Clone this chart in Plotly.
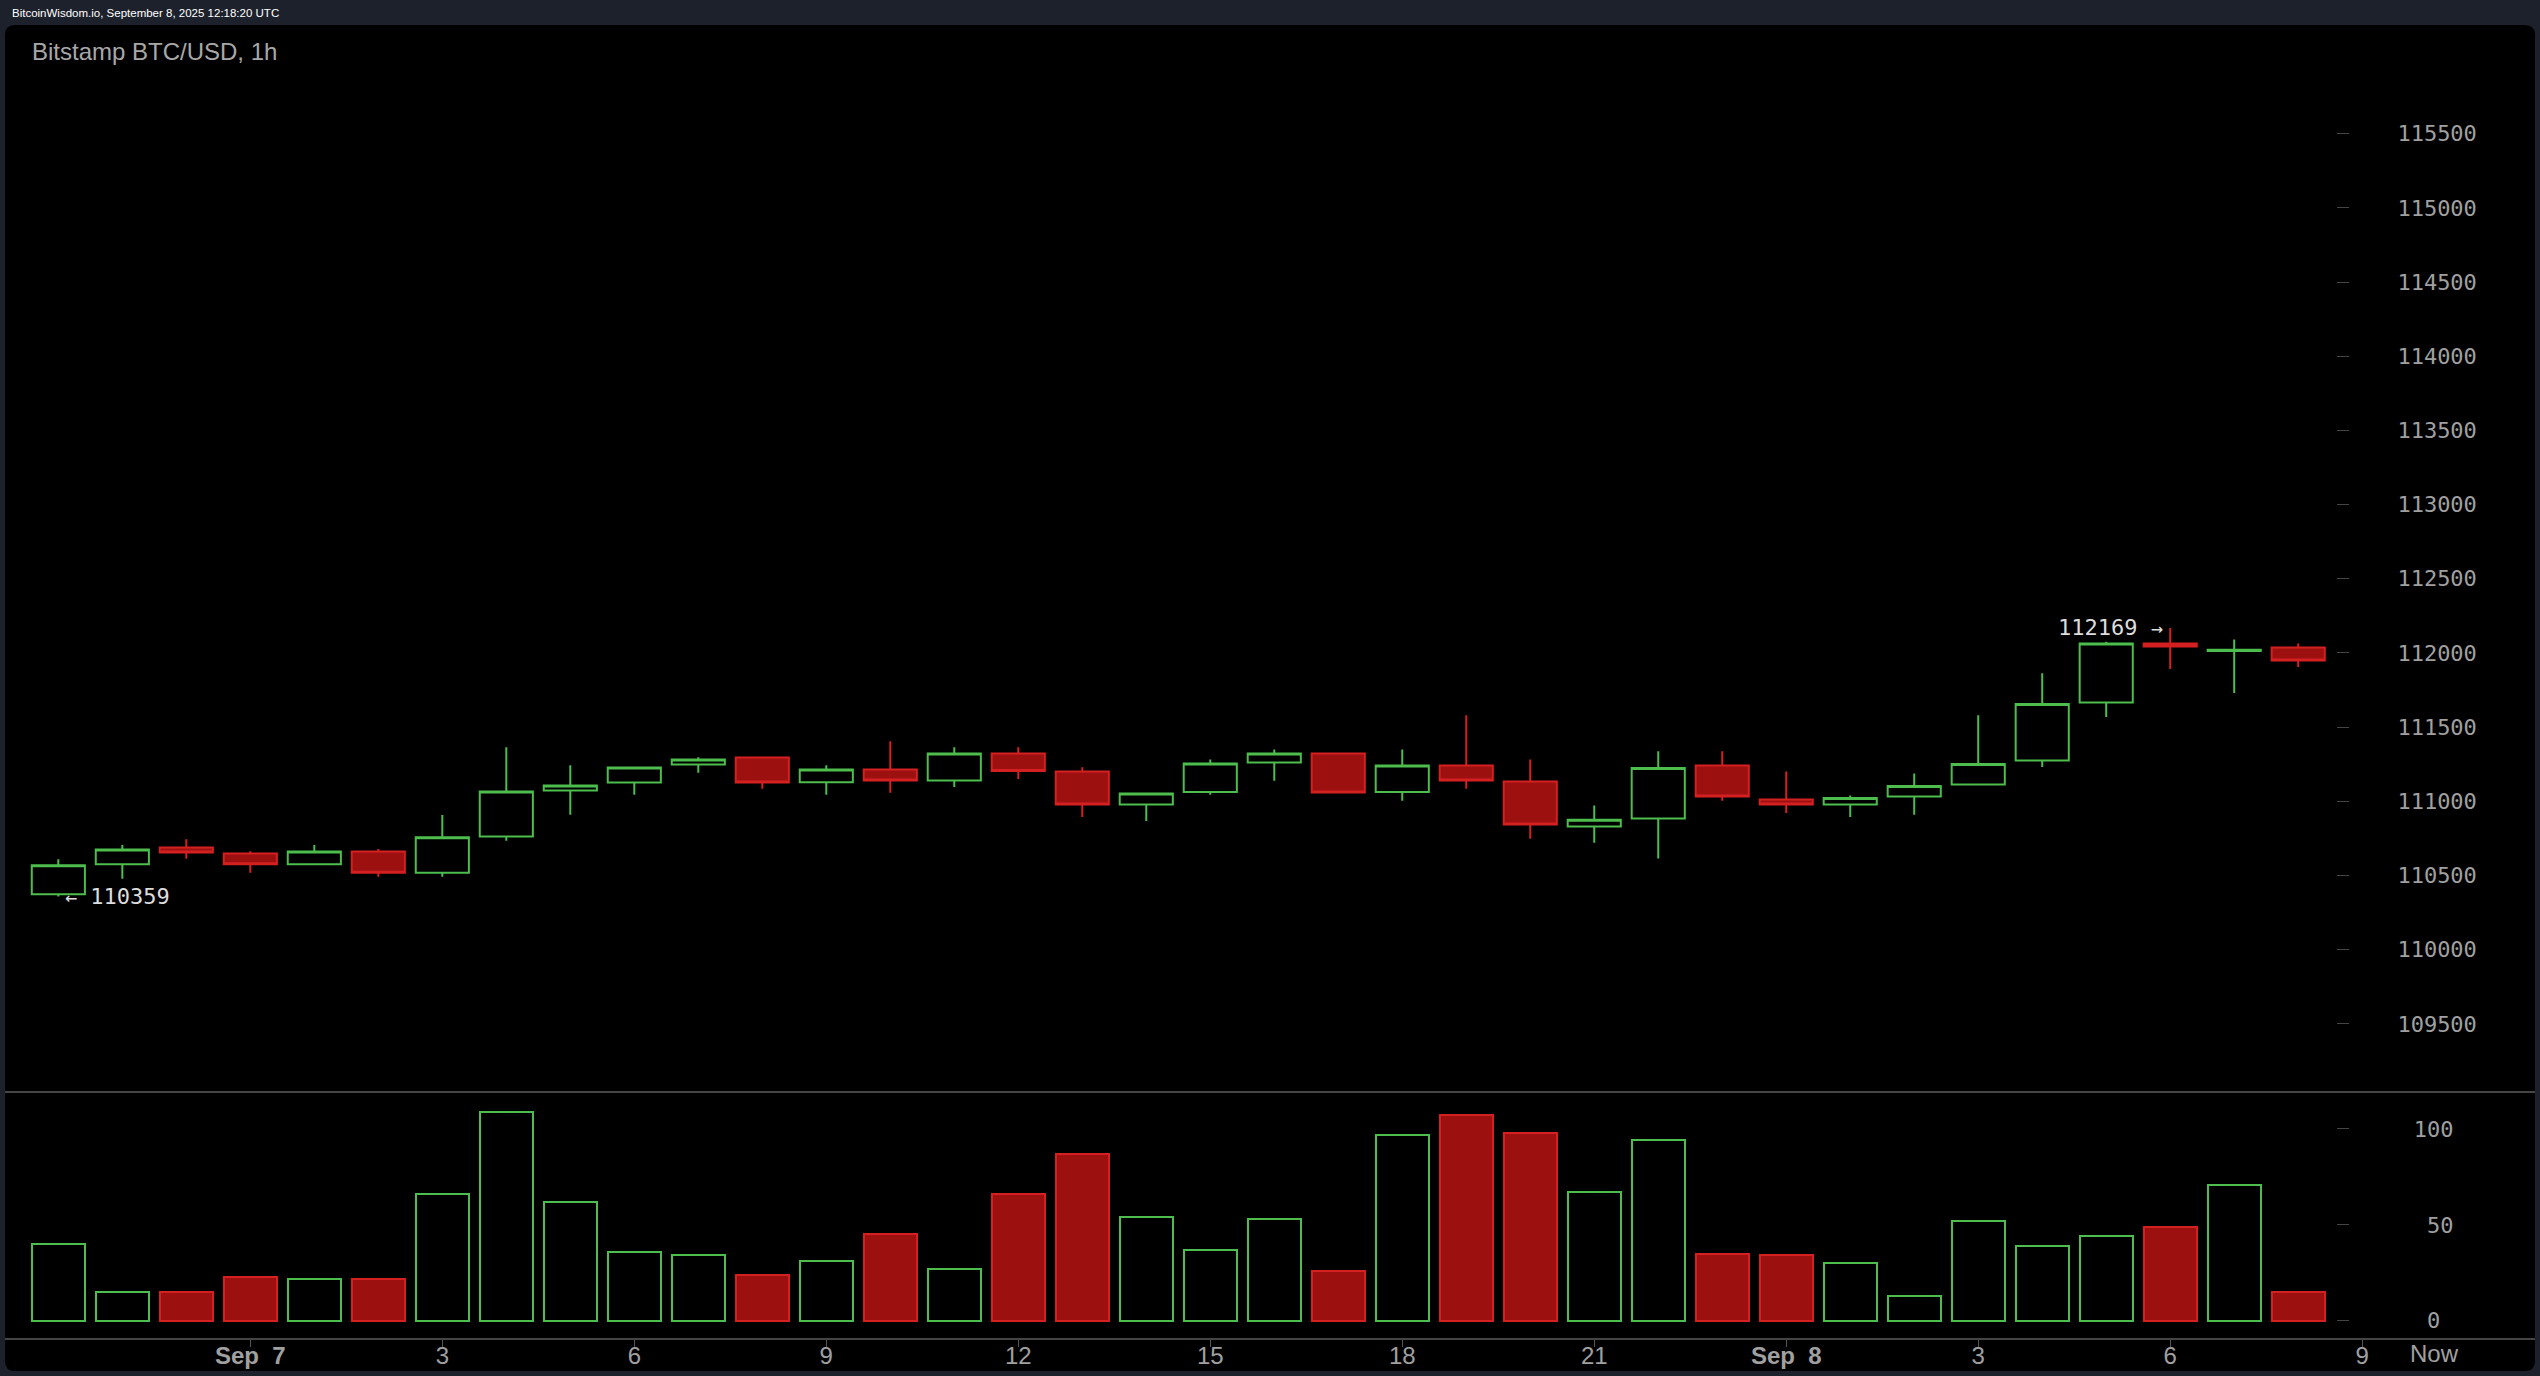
import plotly.graph_objects as go
import pandas as pd

# ---------------- data ----------------
times = pd.date_range("2025-09-06 21:00", periods=36, freq="h")

opens = [110374, 110575, 110689, 110649, 110575, 110662, 110518, 110763, 111073, 111127,
         111248, 111295, 111129, 111215, 111140, 111322, 111201, 110979, 111062, 111262,
         111322, 111062, 111241, 111134, 110831, 110885, 111241, 111012, 110979, 111033,
         111114, 111275, 111666, 112063, 112014, 112036]
highs = [110609, 110705, 110745, 110664, 110705, 110678, 110907, 111365, 111243, 111234,
         111297, 111299, 111243, 111405, 111365, 111365, 111230, 111059, 111282, 111349,
         111329, 111349, 111580, 111282, 110972, 111338, 111338, 111201, 111039, 111188,
         111580, 111863, 112076, 112169, 112090, 112063]
lows = [110359, 110478, 110613, 110518, 110572, 110491, 110491, 110734, 110909, 111044,
        111192, 111084, 111044, 111057, 111097, 111151, 110895, 110868, 111044, 111138,
        111054, 111003, 111084, 110747, 110720, 110615, 111003, 110922, 110895, 110909,
        111109, 111232, 111569, 111892, 111730, 111905]
closes = [110569, 110676, 110655, 110575, 110662, 110518, 110757, 111066, 111107, 111228,
          111282, 111127, 111215, 111140, 111322, 111205, 110979, 111053, 111255, 111322,
          111060, 111241, 111140, 110844, 110875, 111225, 111033, 110979, 111023, 111104,
          111252, 111656, 112063, 112044, 112022, 111949]
volumes = [40, 15, 15, 23, 22, 22, 66, 109, 62, 36, 34, 24, 31, 45, 27, 66, 87, 54, 37, 53,
           26, 97, 107, 98, 67, 94, 35, 34, 30, 13, 52, 39, 44, 49, 71, 15]

price_ticks = [109500, 110000, 110500, 111000, 111500, 112000, 112500, 113000, 113500,
               114000, 114500, 115000, 115500]
vol_ticks = [0, 50, 100]
vol_tick_labels = ["\u00a0\u00a00", "\u00a0\u00a050", "\u00a0100"]
time_ticks = ["2025-09-07 00:00", "2025-09-07 03:00", "2025-09-07 06:00", "2025-09-07 09:00",
              "2025-09-07 12:00", "2025-09-07 15:00", "2025-09-07 18:00", "2025-09-07 21:00",
              "2025-09-08 00:00", "2025-09-08 03:00", "2025-09-08 06:00", "2025-09-08 09:00"]
time_tick_labels = ["<b>Sep\u00a0\u00a07</b>", "3", "6", "9", "12", "15", "18", "21",
                    "<b>Sep\u00a0\u00a08</b>", "3", "6", "9"]
now_time = "2025-09-08 10:08"
low_mark = (0, 110359)
high_mark = (33, 112169)

title_text = "Bitstamp BTC/USD, 1h"
header_text = "BitcoinWisdom.io, September 8, 2025 12:18:20 UTC"

# ---------------- style ----------------
W, H = 2540, 1376
NAVY = "#1d212c"
GREEN = "#4dbd4d"
RED_LINE = "#d42020"
RED_FILL = "#9c1010"
LABEL = "#a0a0a0"
AXLINE = "#454545"
TICK = "#444444"
MONO = "DejaVu Sans Mono"
SANS = "Liberation Sans, Arial, sans-serif"


def px_x(x):
    return x / W


def px_y(y):
    return 1 - y / H


up = [c >= o for o, c in zip(opens, closes)]
vol_fill = ["rgba(0,0,0,0)" if u else RED_FILL for u in up]
vol_line = [GREEN if u else RED_LINE for u in up]

fig = go.Figure()

fig.add_trace(go.Candlestick(
    x=times, open=opens, high=highs, low=lows, close=closes,
    increasing=dict(line=dict(color=GREEN, width=2), fillcolor="rgba(0,0,0,0)"),
    decreasing=dict(line=dict(color=RED_LINE, width=2), fillcolor=RED_FILL),
    whiskerwidth=0, showlegend=False, xaxis="x", yaxis="y",
))

fig.add_trace(go.Bar(
    x=times, y=volumes, width=0.83 * 3600 * 1000,
    marker=dict(color=vol_fill, line=dict(color=vol_line, width=2)),
    showlegend=False, xaxis="x", yaxis="y2",
))

# ---------------- layout ----------------
price_range = [109040.7, 116232.7]
vol_range = [-9.02, 119.24]

yax_common = dict(
    showgrid=False, zeroline=False, showline=False,
    ticks="outside", ticklen=12, tickwidth=1, tickcolor=TICK,
    tickfont=dict(family=MONO, size=22, color=LABEL),
    fixedrange=True,
)

# rounded black panel
x0, x1 = px_x(5), px_x(2535)
yt, yb = px_y(25), px_y(1371)
rx, ry = 10 / W, 10 / H
panel_path = (
    f"M {x0 + rx},{yt} L {x1 - rx},{yt} Q {x1},{yt} {x1},{yt - ry} "
    f"L {x1},{yb + ry} Q {x1},{yb} {x1 - rx},{yb} "
    f"L {x0 + rx},{yb} Q {x0},{yb} {x0},{yb + ry} "
    f"L {x0},{yt - ry} Q {x0},{yt} {x0 + rx},{yt} Z"
)

ARROW = "<span style='font-size:20px'>{}</span>"

fig.update_layout(
    width=W, height=H, autosize=False,
    margin=dict(l=0, r=0, t=0, b=0, pad=0),
    paper_bgcolor=NAVY, plot_bgcolor="rgba(0,0,0,0)",
    boxgap=0.17, boxgroupgap=0, bargap=0,
    showlegend=False,
    xaxis=dict(
        type="date", domain=[px_x(5), px_x(2535)], anchor="y2",
        range=["2025-09-06 20:10", "2025-09-08 11:42"],
        tickvals=time_ticks, ticktext=time_tick_labels,
        ticks="outside", ticklen=7, tickwidth=1, tickcolor="#555555",
        tickfont=dict(family=SANS, size=24, color=LABEL),
        ticklabelstandoff=-12,
        showline=True, linecolor=AXLINE, linewidth=2,
        showgrid=False, zeroline=False,
        rangeslider=dict(visible=False), fixedrange=True,
    ),
    yaxis=dict(
        domain=[px_y(1092), px_y(25)], range=price_range,
        anchor="free", position=px_x(2336), side="right",
        tickvals=price_ticks, ticktext=[str(v) for v in price_ticks],
        ticklabelstandoff=44, **yax_common,
    ),
    yaxis2=dict(
        domain=[px_y(1338), px_y(1092)], range=vol_range,
        anchor="free", position=px_x(2336), side="right",
        tickvals=vol_ticks, ticktext=vol_tick_labels,
        ticklabelstandoff=47, **yax_common,
    ),
    yaxis3=dict(
        overlaying="y", range=price_range, anchor="free", position=px_x(2536),
        side="left", tickvals=price_ticks, showticklabels=False, **yax_common,
    ),
    yaxis4=dict(
        overlaying="y2", range=vol_range, anchor="free", position=px_x(2536),
        side="left", tickvals=vol_ticks, showticklabels=False, **yax_common,
    ),
    shapes=[
        dict(type="path", xref="paper", yref="paper", path=panel_path,
             fillcolor="#000000", line=dict(width=0), layer="below"),
        dict(type="line", xref="paper", yref="paper", x0=x0, x1=x1,
             y0=px_y(1092), y1=px_y(1092), line=dict(color=AXLINE, width=2)),
    ],
    annotations=[
        dict(text=header_text, xref="paper", yref="paper", x=px_x(10), y=px_y(13),
             xanchor="left", yanchor="middle", showarrow=False,
             font=dict(family=SANS, size=11.5, color="#ffffff")),
        dict(text=title_text, xref="paper", yref="paper", x=px_x(30), y=px_y(51),
             xanchor="left", yanchor="middle", showarrow=False,
             font=dict(family=SANS, size=24, color="#a8a8a8")),
        dict(text=ARROW.format("\u2190") + " " + str(low_mark[1]),
             xref="x", yref="y", x=times[low_mark[0]], y=low_mark[1],
             xanchor="left", yanchor="middle", xshift=5, showarrow=False,
             font=dict(family=MONO, size=22, color="#dddddd")),
        dict(text=str(high_mark[1]) + " " + ARROW.format("\u2192"),
             xref="x", yref="y", x=times[high_mark[0]], y=high_mark[1],
             xanchor="right", yanchor="middle", xshift=-5, showarrow=False,
             font=dict(family=MONO, size=22, color="#dddddd")),
        dict(text="Now", xref="x", yref="paper", x=now_time, y=px_y(1353),
             xanchor="center", yanchor="middle", showarrow=False,
             font=dict(family=SANS, size=24, color=LABEL)),
    ],
)

fig.write_html(
    "out.html",
    config={"displayModeBar": False},
    post_script="document.body.style.margin='0px';document.body.style.overflow='hidden';",
)
